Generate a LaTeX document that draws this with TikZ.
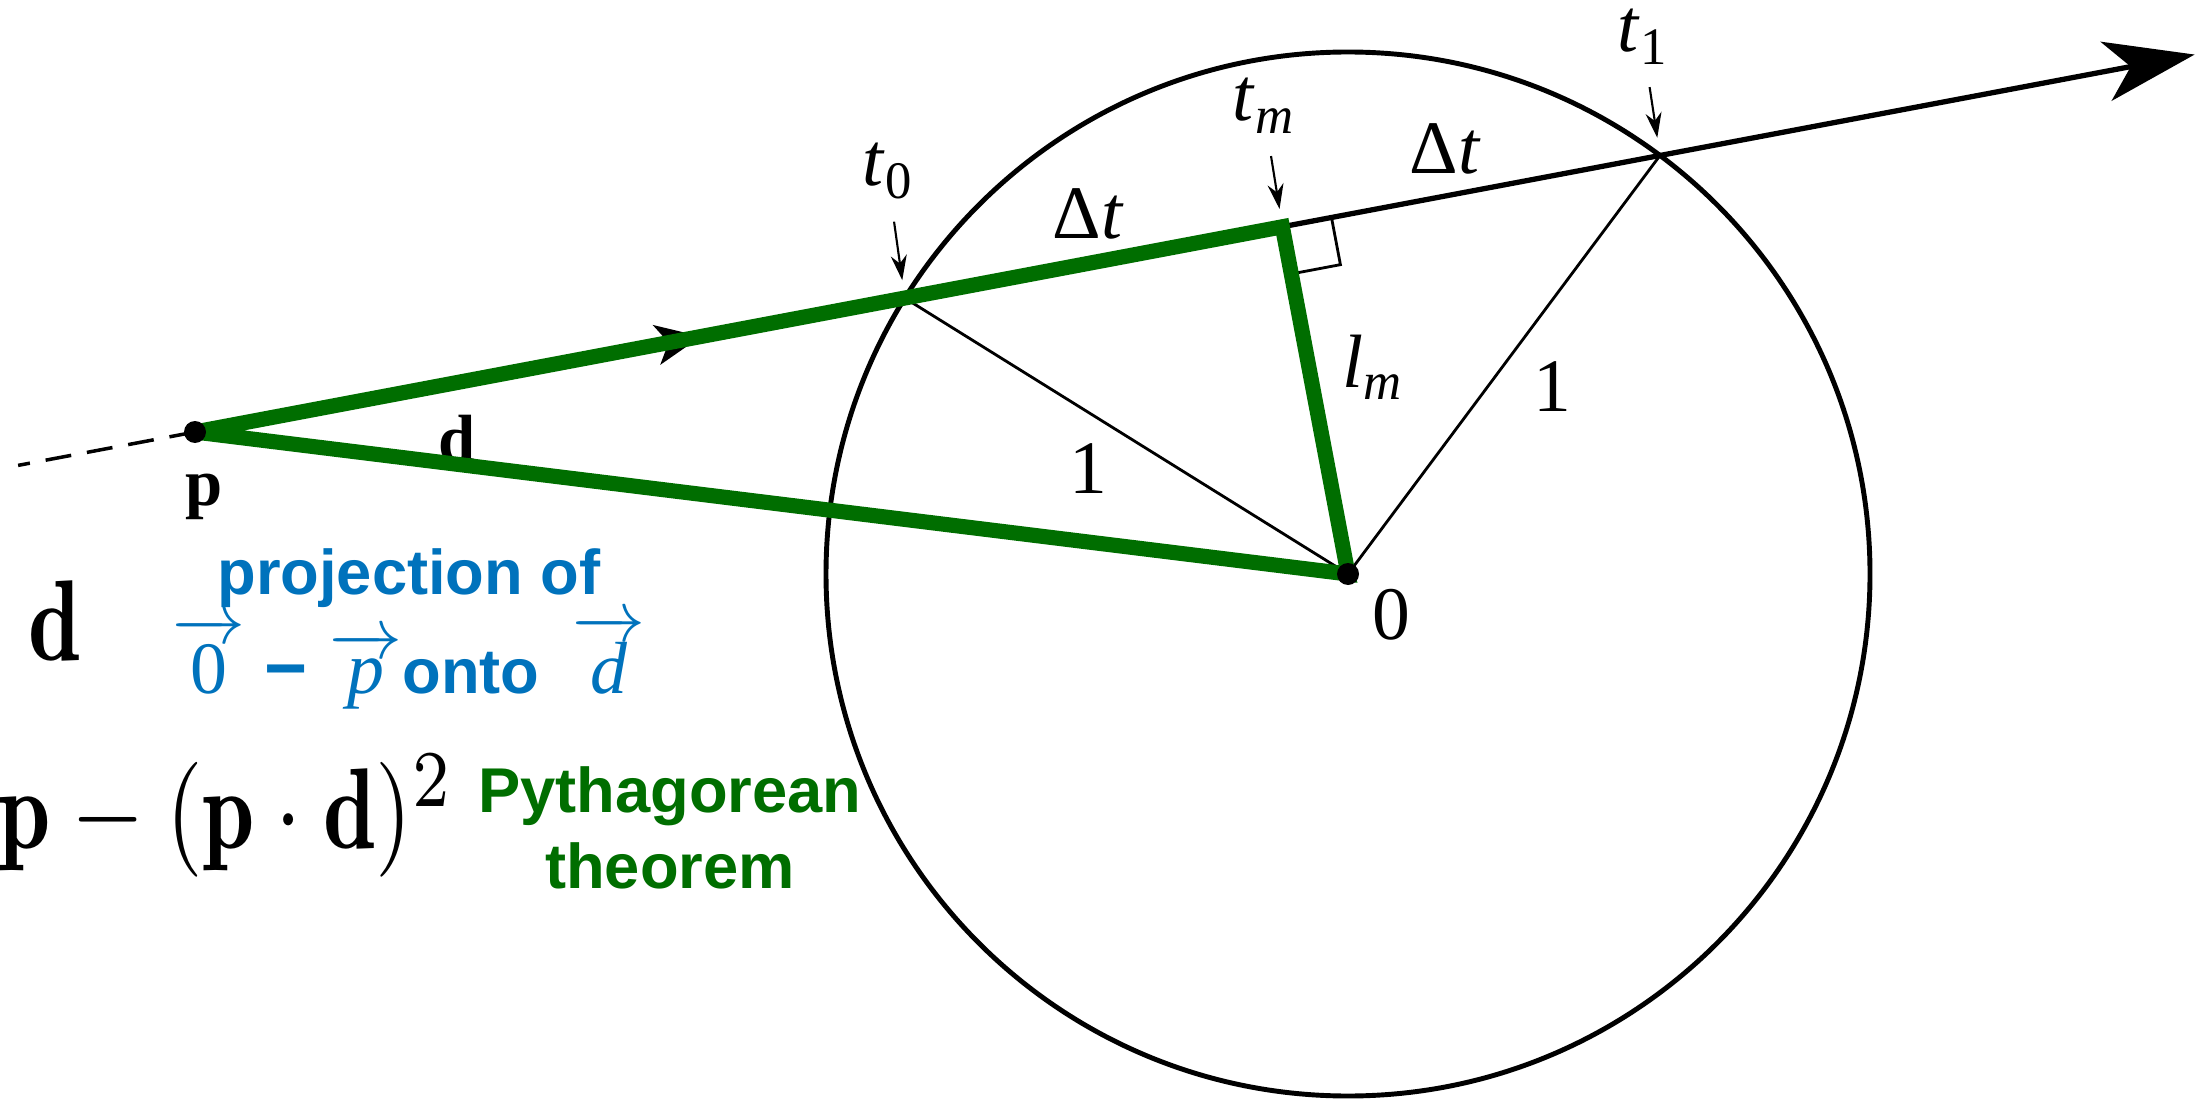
\documentclass[tikz,border=0pt]{standalone}
\usepackage{fontspec}
\usepackage{amsmath}
\usepackage{graphicx}
\usepackage{tikz}
\usetikzlibrary{arrows.meta, calc, intersections, decorations.markings}

\newfontfamily\figfont{Liberation Serif}
\newfontfamily\notefont{Liberation Sans}
\definecolor{projblue}{RGB}{0,114,188}
\definecolor{pythgreen}{RGB}{0,110,0}
\newcommand{\tsub}[2]{#1\raisebox{-3.6pt}{\fontsize{15}{15}\selectfont #2}}
\newcommand{\vecarr}[1]{$\overrightarrow{\makebox[19pt]{#1}}$}

\begin{document}
\begin{tikzpicture}[
    lbl/.style={font=\figfont\fontsize{21.5}{25}\selectfont, inner sep=0pt, anchor=base},
    boldlbl/.style={font=\figfont\bfseries\fontsize{19}{23}\selectfont, inner sep=0pt, anchor=base},
    note/.style={font=\notefont\bfseries\fontsize{18}{27.9}\selectfont, align=center, inner sep=0pt, anchor=base},
    unitcirc/.style={line width=1.4pt},
    rayline/.style={line width=1.5pt},
    thinline/.style={line width=0.8pt},
    lblarr/.style={line width=0.6pt, -{Stealth[length=2.5mm, width=1.6mm]}, shorten <=2.2mm, shorten >=1.8mm},
    greenedge/.style={pythgreen, line width=4.3pt, line cap=round},
    ptdot/.style={circle, fill=black, inner sep=0pt, minimum size=2.2mm}
]
\useasboundingbox (0,0) rectangle (21.97,11.02);
% ----- points -----
\coordinate (p) at (1.95,6.70);
\coordinate (O) at (13.48,5.28);
\coordinate (tip) at ($(p)+(10.69:20.35)$);
\coordinate (back) at ($(p)!-1.8cm!(tip)$);
\coordinate (tm) at ($(p)!(O)!(tip)$);
\path[name path=circ] (O) circle (5.22);
\path[name path=ray] (p) -- (tip);
\path[name intersections={of=circ and ray, sort by=ray, by={t0,t1}}];
% ----- circle, radii, ray -----
\draw[unitcirc] (O) circle (5.22);
\draw[thinline] (O) -- (t0);
\draw[thinline] (O) -- (t1);
\draw[rayline, -{Stealth[length=9mm, width=6mm, inset=2.5mm]}, postaction={decorate},
    decoration={markings, mark=at position 5.15cm with {\arrow{Stealth[length=4.5mm, width=4mm, inset=1.2mm]}}}] (p) -- (tip);
\draw[line width=1pt, dash pattern=on 2.6mm off 1.6mm] (p) -- (back);
% right angle at tm
\coordinate (ra1) at ($(tm)!0.5cm!(t1)$);
\coordinate (ra3) at ($(tm)!0.48cm!(O)$);
\draw[thinline] (ra1) -- ($(ra1)+(ra3)-(tm)$) -- (ra3);
% ----- green triangle -----
\node[boldlbl] (ld) at (4.57,6.41) {d};
\draw[greenedge] (p) -- (tm) -- (O) -- (p);
\node[ptdot] (pdot) at (p) {};
\node[ptdot] (Odot) at (O) {};
% ----- labels -----
\node[boldlbl] (lp) at (2.04,5.97) {p};
\node[lbl] (lO) at (13.91,4.63) {0};
\node[lbl] (lt0) at (8.87,9.16) {\tsub{\textit{t}}{0}};
\node[lbl] (ltm) at (12.63,9.81) {\tsub{\textit{t}}{\textit{m}}};
\node[lbl] (lt1) at (16.42,10.50) {\tsub{\textit{t}}{1}};
\node[lbl] (ldt1) at (10.88,8.63) {Δ\textit{t}};
\node[lbl] (ldt2) at (14.45,9.28) {Δ\textit{t}};
\node[lbl] (llm) at (13.72,7.15) {\tsub{\textit{l}}{\textit{m}}};
\node[lbl] (lone1) at (10.88,6.08) {1};
\node[lbl] (lone2) at (15.52,6.90) {1};
\draw[lblarr] (lt0) -- (t0);
\draw[lblarr] (ltm) -- (tm);
\draw[lblarr] (lt1) -- (t1);
% ----- formulas and notes -----
\node[anchor=base, inner sep=0pt] (tmeq) at (0.55,4.42) {\scalebox{2.68}[3.27]{$\mathbf{d}$}};
\node[anchor=base east, inner sep=0pt] (lmeq) at (4.55,2.54) {\scalebox{2.68}[3.27]{$\mathbf{p}-(\mathbf{p}\cdot\mathbf{d})^2$}};
\node[note, text=projblue] (proj) at (4.09,4.09) {projection of\\
    {\figfont\mdseries\fontsize{21}{25}\selectfont\vecarr{0}}\hspace{0.19cm}{\fontsize{21}{25}\selectfont −}\hspace{0.22cm}{\figfont\mdseries\fontsize{21}{25}\selectfont\vecarr{\itshape p}}onto\hspace{0.33cm}{\figfont\mdseries\fontsize{21}{25}\selectfont\vecarr{\itshape d}}};
\node[note, text=pythgreen, font=\notefont\bfseries\fontsize{18}{21.6}\selectfont] (pyth) at (6.70,2.14) {Pythagorean\\theorem};
\end{tikzpicture}
\end{document}
